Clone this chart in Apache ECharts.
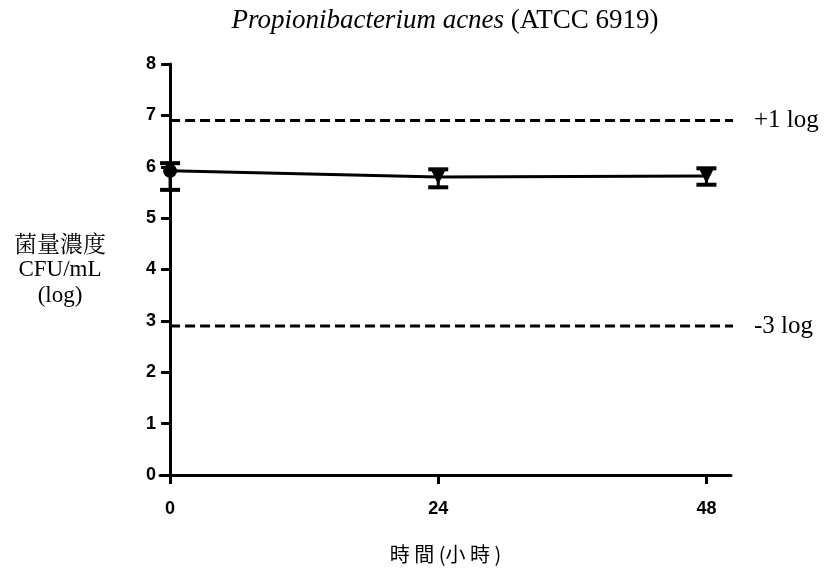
<!DOCTYPE html>
<html>
<head>
<meta charset="utf-8">
<script src="https://cdn.jsdelivr.net/npm/echarts@6/dist/echarts.min.js"></script>
<style>html,body{margin:0;padding:0;background:#fff}#c{width:827px;height:570px}</style>
</head>
<body>
<div id="c"></div>
<script>
var hours = [0, 24, 48];
var meanLog = [5.92, 5.80, 5.82];
var upperLog = [6.07, 5.95, 5.97];
var lowerLog = [5.55, 5.60, 5.65];
var symbols = ['circle', 'triangle', 'triangle'];
var refLines = [6.9, 2.9];
var refLabels = ['+1 log', '-3 log'];
var yTicks = [0, 1, 2, 3, 4, 5, 6, 7, 8];
var xTicks = [0, 24, 48];

var chart = echarts.init(document.getElementById('c'), null, {renderer: 'canvas'});

var lineData = hours.map(function (h, i) {
  return {
    value: [h, meanLog[i]],
    symbol: symbols[i],
    symbolRotate: symbols[i] === 'triangle' ? 180 : 0,
    symbolSize: symbols[i] === 'triangle' ? 15 : 14
  };
});
var errData = hours.map(function (h, i) { return [h, lowerLog[i], upperLog[i]]; });

var refSeries = refLines.map(function (v, i) {
  return {
    type: 'line',
    data: [[0, v], [50.6, v]],
    symbol: 'none',
    silent: true,
    lineStyle: {color: '#000', width: 3, type: [10, 5]},
    endLabel: {
      show: true,
      formatter: refLabels[i],
      fontFamily: 'Liberation Serif',
      fontSize: 25,
      color: '#000',
      distance: 21
    },
    z: 1
  };
});

chart.setOption({
  animation: false,
  backgroundColor: '#fff',
  title: {
    text: '{i|Propionibacterium acnes} (ATCC 6919)',
    left: 440,
    textAlign: 'center',
    top: 2,
    textStyle: {
      fontFamily: 'Liberation Serif',
      fontSize: 27,
      fontWeight: 'normal',
      color: '#000',
      rich: {
        i: {fontFamily: 'Liberation Serif', fontSize: 27, fontStyle: 'italic', color: '#000'}
      }
    }
  },
  grid: {left: 160, right: 96, top: 64, bottom: 95, containLabel: false, outerBoundsMode: 'none'},
  xAxis: {
    type: 'value',
    min: -0.9,
    max: 50.2,
    name: '時 間 (小 時 )',
    nameLocation: 'middle',
    nameGap: 69,
    nameTextStyle: {fontFamily: 'Noto Sans CJK TC', fontSize: 20, color: '#000'},
    axisLine: {show: true, lineStyle: {color: '#000', width: 3}},
    axisTick: {show: true, customValues: xTicks, length: 9, lineStyle: {color: '#000', width: 3}},
    axisLabel: {
      customValues: xTicks,
      margin: 25,
      fontFamily: 'Liberation Sans',
      fontWeight: 'bold',
      fontSize: 18,
      color: '#000'
    },
    splitLine: {show: false}
  },
  yAxis: {
    type: 'value',
    min: 0,
    max: 8,
    interval: 1,
    name: '菌量濃度\n{s|CFU/mL}\n{s|(log)}',
    nameLocation: 'middle',
    nameRotate: 0,
    nameGap: 100,
    nameTextStyle: {
      fontFamily: 'Noto Serif CJK TC, Noto Sans CJK TC',
      fontSize: 23,
      lineHeight: 26,
      color: '#000',
      align: 'center',
      rich: {s: {fontFamily: 'Liberation Serif', fontSize: 23, lineHeight: 26, color: '#000'}}
    },
    axisLine: {show: true, onZero: true, lineStyle: {color: '#000', width: 3}},
    axisTick: {show: true, length: 9, lineStyle: {color: '#000', width: 3}},
    axisLabel: {
      margin: 4,
      fontFamily: 'Liberation Sans',
      fontWeight: 'bold',
      fontSize: 18,
      color: '#000'
    },
    splitLine: {show: false}
  },
  series: refSeries.concat([
    {
      type: 'custom',
      data: errData,
      z: 3,
      renderItem: function (params, api) {
        var x = api.value(0);
        var lo = api.coord([x, api.value(1)]);
        var hi = api.coord([x, api.value(2)]);
        var w = 10;
        var st = {stroke: '#000', lineWidth: 3};
        return {
          type: 'group',
          children: [
            {type: 'line', shape: {x1: lo[0], y1: lo[1], x2: hi[0], y2: hi[1]}, style: st},
            {type: 'line', shape: {x1: lo[0] - w, y1: lo[1], x2: lo[0] + w, y2: lo[1]}, style: {stroke: '#000', lineWidth: 4}},
            {type: 'line', shape: {x1: hi[0] - w, y1: hi[1], x2: hi[0] + w, y2: hi[1]}, style: {stroke: '#000', lineWidth: 4}}
          ]
        };
      }
    },
    {
      type: 'line',
      data: lineData,
      z: 4,
      lineStyle: {color: '#000', width: 3},
      itemStyle: {color: '#000', borderColor: '#000', borderWidth: 0}
    }
  ])
});
</script>
</body>
</html>
